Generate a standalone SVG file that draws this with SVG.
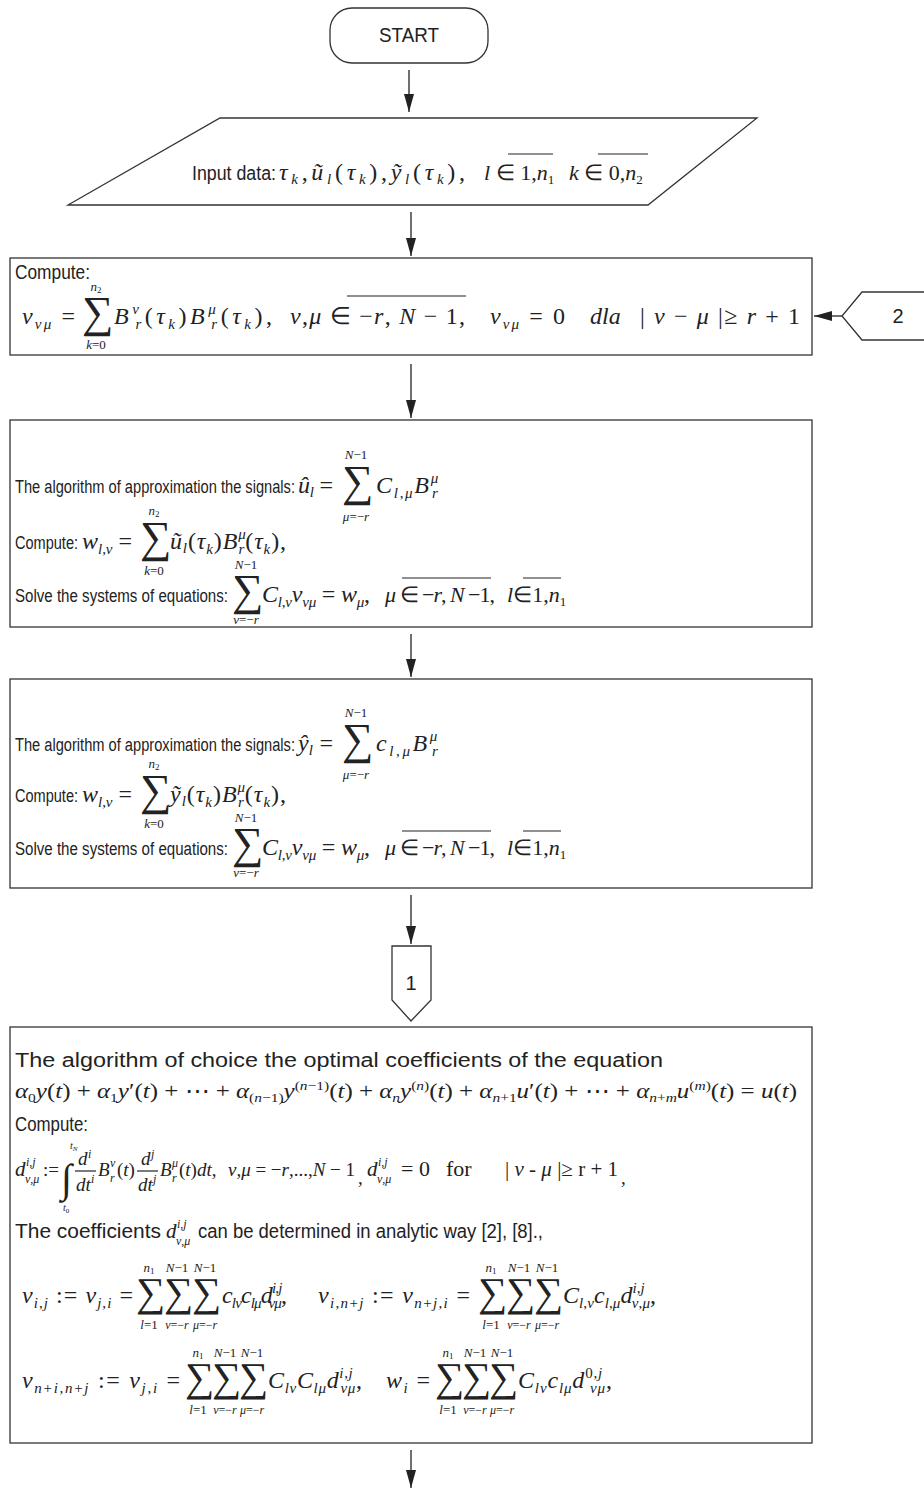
<svg xmlns="http://www.w3.org/2000/svg" width="924" height="1490" viewBox="0 0 924 1490">
<style>
.box{fill:#fff;stroke:#333;stroke-width:1.3}
.ln{stroke:#222;stroke-width:1.3;fill:none}
.t{font-family:"Liberation Sans",Arial,sans-serif;font-size:20px;fill:#222}
.t3{font-family:"Liberation Sans",Arial,sans-serif;font-size:18px;fill:#222}
.m{font-family:"Liberation Serif","Times New Roman",serif;font-style:italic;font-size:24px;fill:#222}
.d{font-family:"Liberation Serif","Times New Roman",serif;font-style:italic;font-size:19px;fill:#222}
.n{font-style:normal}
.sb{font-size:15px}
.s{font-family:"Liberation Serif","Times New Roman",serif;font-style:italic;font-size:12px;fill:#222}
.sum{font-family:"Liberation Serif","Times New Roman",serif;font-size:44px;fill:#222}
.rs{font-family:"Liberation Serif","Times New Roman",serif;font-size:41px;fill:#222}
.lim{font-family:"Liberation Serif","Times New Roman",serif;font-style:italic;font-size:13px;fill:#222;text-anchor:middle}
.ov{stroke:#222;stroke-width:1.2}
</style>
<defs>
<marker id="a" markerUnits="userSpaceOnUse" markerWidth="18" markerHeight="10" refX="18" refY="5" orient="auto" viewBox="0 0 18 10">
<path d="M0,0 L18,5 L0,10 z" fill="#222"/>
</marker>
</defs>

<g id="connectors">
<line class="ln" x1="409" y1="70" x2="409" y2="112" marker-end="url(#a)"/>
<line class="ln" x1="411" y1="212" x2="411" y2="256" marker-end="url(#a)"/>
<line class="ln" x1="411" y1="364" x2="411" y2="418" marker-end="url(#a)"/>
<line class="ln" x1="411" y1="634" x2="411" y2="677" marker-end="url(#a)"/>
<line class="ln" x1="411" y1="895" x2="411" y2="944" marker-end="url(#a)"/>
<line class="ln" x1="411" y1="1450" x2="411" y2="1488" marker-end="url(#a)"/>
<line class="ln" x1="842" y1="316" x2="814" y2="316" marker-end="url(#a)"/>
</g>

<g id="start">
<rect class="box" x="330" y="8" width="158" height="55" rx="22"/>
<text class="t" x="409" y="42" text-anchor="middle" textLength="60" lengthAdjust="spacingAndGlyphs">START</text>
</g>

<g id="input">
<polygon class="box" points="220,118 757,118 648,205 68,205"/>
<text class="t" x="192" y="180" textLength="84" lengthAdjust="spacingAndGlyphs">Input data:</text>
<text class="m" x="279" y="180" textLength="186">τ<tspan class="sb" dy="4">k</tspan><tspan class="n" dy="-4">,</tspan>ũ<tspan class="sb" dy="4">l</tspan><tspan class="n" dy="-4">(</tspan>τ<tspan class="sb" dy="4">k</tspan><tspan class="n" dy="-4">),</tspan>ỹ<tspan class="sb" dy="4">l</tspan><tspan class="n" dy="-4">(</tspan>τ<tspan class="sb" dy="4">k</tspan><tspan class="n" dy="-4">),</tspan></text>
<text class="m" x="484" y="180" style="font-size:22px">l <tspan class="n">∈ 1,</tspan>n<tspan class="n" style="font-size:13px" dy="4">1</tspan></text>
<line class="ov" x1="508" y1="154" x2="553" y2="154"/>
<text class="m" x="569" y="180" style="font-size:22px">k <tspan class="n">∈ 0,</tspan>n<tspan class="n" style="font-size:13px" dy="4">2</tspan></text>
<line class="ov" x1="598" y1="154" x2="648" y2="154"/>
</g>

<g id="compute1">
<rect class="box" x="10" y="258" width="802" height="97"/>
<text class="t" x="15" y="279" textLength="75" lengthAdjust="spacingAndGlyphs">Compute:</text>
<text class="m" x="22" y="324" textLength="53">v<tspan class="sb" dy="5">νμ</tspan><tspan class="n" dy="-5"> = </tspan></text>
<text class="sum" x="82" y="327">∑</text>
<text class="lim" x="96" y="291">n<tspan font-size="9" dy="2" font-style="normal">2</tspan></text>
<text class="lim" x="96" y="349">k<tspan font-style="normal">=0</tspan></text>
<text class="m" x="114" y="324" textLength="158">B<tspan class="sb" dy="-10">ν</tspan><tspan class="sb" dx="-7" dy="15">r</tspan><tspan class="n" dy="-5">(</tspan>τ<tspan class="sb" dy="5">k</tspan><tspan class="n" dy="-5">)</tspan>B<tspan class="sb" dy="-10">μ</tspan><tspan class="sb" dx="-8" dy="15">r</tspan><tspan class="n" dy="-5">(</tspan>τ<tspan class="sb" dy="5">k</tspan><tspan class="n" dy="-5">),</tspan></text>
<text class="m" x="290" y="324" textLength="175">ν<tspan class="n">,</tspan>μ <tspan class="n">∈ −</tspan>r<tspan class="n">, </tspan>N <tspan class="n">− 1,</tspan></text>
<line class="ov" x1="347" y1="296" x2="466" y2="296"/>
<text class="m" x="490" y="324" textLength="75">v<tspan class="sb" dy="5">νμ</tspan><tspan class="n" dy="-5"> = 0</tspan></text>
<text class="m" x="590" y="324">dla</text>
<text class="m" x="640" y="324" textLength="160"><tspan class="n">| </tspan>ν <tspan class="n">− </tspan>μ <tspan class="n">|≥ </tspan>r <tspan class="n">+ 1</tspan></text>
</g>

<g id="conn2">
<polyline class="box" points="924,292 862,292 842,316 862,340 924,340"/>
<text class="t" x="898" y="323" text-anchor="middle">2</text>
</g>

<g id="approx-u">
<rect class="box" x="10" y="420" width="802" height="207"/>
<text class="t3" x="15" y="493" textLength="280" lengthAdjust="spacingAndGlyphs">The algorithm of approximation the signals:</text>
<text class="m" x="298" y="493" textLength="35">û<tspan class="sb" dy="4">l</tspan><tspan class="n" dy="-4"> = </tspan></text>
<text class="sum" x="342" y="496">∑</text>
<text class="lim" x="356" y="459">N<tspan font-style="normal">−1</tspan></text>
<text class="lim" x="356" y="521">μ<tspan font-style="normal">=−</tspan>r</text>
<text class="m" x="376" y="493" textLength="64">C<tspan class="sb" dy="5">l<tspan class="n">,</tspan>μ</tspan><tspan dy="-5">B</tspan><tspan class="sb" dy="-10">μ</tspan><tspan class="sb" dx="-8" dy="15">r</tspan></text>
<text class="t3" x="15" y="549" textLength="63" lengthAdjust="spacingAndGlyphs">Compute:</text>
<text class="m" x="82" y="549" textLength="50">w<tspan class="sb" dy="5">l<tspan class="n">,</tspan>ν</tspan><tspan class="n" dy="-5"> = </tspan></text>
<text class="sum" x="140" y="552">∑</text>
<text class="lim" x="154" y="515">n<tspan font-size="9" dy="2" font-style="normal">2</tspan></text>
<text class="lim" x="154" y="575">k<tspan font-style="normal">=0</tspan></text>
<text class="m" x="170" y="549" textLength="116">ũ<tspan class="sb" dy="4">l</tspan><tspan class="n" dy="-4">(</tspan>τ<tspan class="sb" dy="5">k</tspan><tspan class="n" dy="-5">)</tspan>B<tspan class="sb" dy="-10">μ</tspan><tspan class="sb" dx="-8" dy="15">r</tspan><tspan class="n" dy="-5">(</tspan>τ<tspan class="sb" dy="5">k</tspan><tspan class="n" dy="-5">),</tspan></text>
<text class="t3" x="15" y="602" textLength="213" lengthAdjust="spacingAndGlyphs">Solve the systems of equations:</text>
<text class="sum" x="232" y="605">∑</text>
<text class="lim" x="246" y="569">N<tspan font-style="normal">−1</tspan></text>
<text class="lim" x="246" y="624">ν<tspan font-style="normal">=−</tspan>r</text>
<text class="m" x="262" y="602" textLength="108">C<tspan class="sb" dy="5">l<tspan class="n">,</tspan>ν</tspan><tspan dy="-5">v</tspan><tspan class="sb" dy="5">νμ</tspan><tspan class="n" dy="-5"> = </tspan>w<tspan class="sb" dy="5">μ</tspan><tspan class="n" dy="-5">,</tspan></text>
<text class="m" x="385" y="602" style="font-size:22px" textLength="110">μ <tspan class="n">∈ −</tspan>r<tspan class="n">, </tspan>N <tspan class="n">−1,</tspan></text>
<line class="ov" x1="402" y1="578" x2="491" y2="578"/>
<text class="m" x="507" y="602" style="font-size:22px">l<tspan class="n">∈1,</tspan>n<tspan class="n" style="font-size:13px" dy="4">1</tspan></text>
<line class="ov" x1="523" y1="578" x2="561" y2="578"/>
</g>

<g id="approx-y">
<rect class="box" x="10" y="679" width="802" height="209"/>
<text class="t3" x="15" y="751" textLength="280" lengthAdjust="spacingAndGlyphs">The algorithm of approximation the signals:</text>
<text class="m" x="298" y="751" textLength="35">ŷ<tspan class="sb" dy="4">l</tspan><tspan class="n" dy="-4"> = </tspan></text>
<text class="sum" x="342" y="754">∑</text>
<text class="lim" x="356" y="717">N<tspan font-style="normal">−1</tspan></text>
<text class="lim" x="356" y="779">μ<tspan font-style="normal">=−</tspan>r</text>
<text class="m" x="376" y="751" textLength="64">c<tspan class="sb" dy="5">l<tspan class="n">,</tspan>μ</tspan><tspan dy="-5">B</tspan><tspan class="sb" dy="-10">μ</tspan><tspan class="sb" dx="-8" dy="15">r</tspan></text>
<text class="t3" x="15" y="802" textLength="63" lengthAdjust="spacingAndGlyphs">Compute:</text>
<text class="m" x="82" y="802" textLength="50">w<tspan class="sb" dy="5">l<tspan class="n">,</tspan>ν</tspan><tspan class="n" dy="-5"> = </tspan></text>
<text class="sum" x="140" y="805">∑</text>
<text class="lim" x="154" y="768">n<tspan font-size="9" dy="2" font-style="normal">2</tspan></text>
<text class="lim" x="154" y="828">k<tspan font-style="normal">=0</tspan></text>
<text class="m" x="170" y="802" textLength="116">ỹ<tspan class="sb" dy="4">l</tspan><tspan class="n" dy="-4">(</tspan>τ<tspan class="sb" dy="5">k</tspan><tspan class="n" dy="-5">)</tspan>B<tspan class="sb" dy="-10">μ</tspan><tspan class="sb" dx="-8" dy="15">r</tspan><tspan class="n" dy="-5">(</tspan>τ<tspan class="sb" dy="5">k</tspan><tspan class="n" dy="-5">),</tspan></text>
<text class="t3" x="15" y="855" textLength="213" lengthAdjust="spacingAndGlyphs">Solve the systems of equations:</text>
<text class="sum" x="232" y="858">∑</text>
<text class="lim" x="246" y="822">N<tspan font-style="normal">−1</tspan></text>
<text class="lim" x="246" y="877">ν<tspan font-style="normal">=−</tspan>r</text>
<text class="m" x="262" y="855" textLength="108">C<tspan class="sb" dy="5">l<tspan class="n">,</tspan>ν</tspan><tspan dy="-5">v</tspan><tspan class="sb" dy="5">νμ</tspan><tspan class="n" dy="-5"> = </tspan>w<tspan class="sb" dy="5">μ</tspan><tspan class="n" dy="-5">,</tspan></text>
<text class="m" x="385" y="855" style="font-size:22px" textLength="110">μ <tspan class="n">∈ −</tspan>r<tspan class="n">, </tspan>N <tspan class="n">−1,</tspan></text>
<line class="ov" x1="402" y1="831" x2="491" y2="831"/>
<text class="m" x="507" y="855" style="font-size:22px">l<tspan class="n">∈1,</tspan>n<tspan class="n" style="font-size:13px" dy="4">1</tspan></text>
<line class="ov" x1="523" y1="831" x2="561" y2="831"/>
</g>

<g id="conn1">
<polygon class="box" points="392,946 431,946 431,1000 411,1021 392,1000"/>
<text class="t" x="411" y="990" text-anchor="middle">1</text>
</g>

<g id="optimal">
<rect class="box" x="10" y="1027" width="802" height="416"/>
<text class="t" x="15" y="1067" textLength="648" lengthAdjust="spacingAndGlyphs">The algorithm of choice the optimal coefficients of the equation</text>
<text class="m" x="15" y="1098" style="font-size:21px" textLength="782" lengthAdjust="spacingAndGlyphs">α<tspan class="n" font-size="13" dy="4">0</tspan><tspan dy="-4">y</tspan><tspan class="n">(</tspan>t<tspan class="n">) + </tspan>α<tspan class="n" font-size="13" dy="4">1</tspan><tspan dy="-4">y</tspan><tspan class="n">′(</tspan>t<tspan class="n">) + ⋯ + </tspan>α<tspan class="n" font-size="13" dy="4">(</tspan><tspan font-size="13">n</tspan><tspan class="n" font-size="13">−1)</tspan><tspan dy="-4">y</tspan><tspan class="n" font-size="13" dy="-8">(</tspan><tspan font-size="13">n</tspan><tspan class="n" font-size="13">−1)</tspan><tspan class="n" dy="8">(</tspan>t<tspan class="n">) + </tspan>α<tspan font-size="13" dy="4">n</tspan><tspan dy="-4">y</tspan><tspan class="n" font-size="13" dy="-8">(</tspan><tspan font-size="13">n</tspan><tspan class="n" font-size="13">)</tspan><tspan class="n" dy="8">(</tspan>t<tspan class="n">) + </tspan>α<tspan font-size="13" dy="4">n</tspan><tspan class="n" font-size="13">+1</tspan><tspan dy="-4">u</tspan><tspan class="n">′(</tspan>t<tspan class="n">) + ⋯ + </tspan>α<tspan font-size="13" dy="4">n</tspan><tspan class="n" font-size="13">+</tspan><tspan font-size="13">m</tspan><tspan dy="-4">u</tspan><tspan class="n" font-size="13" dy="-8">(</tspan><tspan font-size="13">m</tspan><tspan class="n" font-size="13">)</tspan><tspan class="n" dy="8">(</tspan>t<tspan class="n">) = </tspan>u<tspan class="n">(</tspan>t<tspan class="n">)</tspan></text>
<text class="t" x="15" y="1131" textLength="73" lengthAdjust="spacingAndGlyphs">Compute:</text>

<text class="d" x="15" y="1176" style="font-size:21px">d</text>
<text class="s" x="26" y="1166">i<tspan class="n">,</tspan>j</text>
<text class="s" x="25" y="1183">ν<tspan class="n">,</tspan>μ</text>
<text class="d n" x="43" y="1176">:=</text>
<text class="sum" x="61" y="1192" style="font-size:40px">∫</text>
<text class="s" x="70" y="1149" style="font-size:10px">t<tspan font-size="7" dy="2">N</tspan></text>
<text class="s" x="63" y="1211" style="font-size:10px">t<tspan font-size="7" dy="2" font-style="normal">0</tspan></text>
<text class="d" x="78" y="1165">d</text>
<text class="s" x="88" y="1158">i</text>
<line class="ov" x1="75" y1="1171" x2="96" y2="1171"/>
<text class="d" x="76" y="1191">dt</text>
<text class="s" x="91" y="1183">i</text>
<text class="d" x="98" y="1176">B</text>
<text class="s" x="110" y="1167">ν</text>
<text class="s" x="110" y="1182">r</text>
<text class="d" x="117" y="1176"><tspan class="n">(</tspan>t<tspan class="n">)</tspan></text>
<text class="d" x="141" y="1165">d</text>
<text class="s" x="151" y="1158">j</text>
<line class="ov" x1="137" y1="1171" x2="158" y2="1171"/>
<text class="d" x="138" y="1191">dt</text>
<text class="s" x="153" y="1183">j</text>
<text class="d" x="160" y="1176">B</text>
<text class="s" x="172" y="1167">μ</text>
<text class="s" x="172" y="1182">r</text>
<text class="d" x="179" y="1176"><tspan class="n">(</tspan>t<tspan class="n">)</tspan>dt<tspan class="n">,</tspan></text>
<text class="d" x="228" y="1176" textLength="127">ν<tspan class="n">,</tspan>μ<tspan class="n"> = −</tspan>r<tspan class="n">,...,</tspan>N <tspan class="n">− 1</tspan></text>
<text class="d n" x="358" y="1184">,</text>
<text class="d" x="367" y="1176" style="font-size:21px">d</text>
<text class="s" x="378" y="1166">i<tspan class="n">,</tspan>j</text>
<text class="s" x="377" y="1183">ν<tspan class="n">,</tspan>μ</text>
<text class="d n" x="401" y="1176" style="font-size:22px">= 0</text>
<text class="d n" x="446" y="1176" style="font-size:22px">for</text>
<text class="d" x="505" y="1176" style="font-size:21px" textLength="113"><tspan class="n">| </tspan>ν <tspan class="n">- </tspan>μ<tspan class="n"> |≥ r + 1</tspan></text>
<text class="d n" x="621" y="1184">,</text>

<text class="t" x="15" y="1238" textLength="146" lengthAdjust="spacingAndGlyphs">The coefficients</text>
<text class="d" x="166" y="1238" style="font-size:21px">d</text>
<text class="s" x="177" y="1228">i<tspan class="n">,</tspan>j</text>
<text class="s" x="176" y="1245">ν<tspan class="n">,</tspan>μ</text>
<text class="t" x="198" y="1238" textLength="345" lengthAdjust="spacingAndGlyphs">can be determined in analytic way [2], [8].,</text>

<text class="m" x="22" y="1303" textLength="111">v<tspan class="sb" dy="5">i<tspan class="n">,</tspan>j</tspan><tspan class="n" dy="-5"> := </tspan>v<tspan class="sb" dy="5">j<tspan class="n">,</tspan>i</tspan><tspan class="n" dy="-5"> = </tspan></text>
<text class="rs" x="136" y="1306">∑</text>
<text class="rs" x="164" y="1306">∑</text>
<text class="rs" x="192" y="1306">∑</text>
<text class="lim" x="149" y="1272">n<tspan font-size="9" dy="2" font-style="normal">1</tspan></text>
<text class="lim" x="177" y="1272">N<tspan font-style="normal">−1</tspan></text>
<text class="lim" x="205" y="1272">N<tspan font-style="normal">−1</tspan></text>
<text class="lim" x="149" y="1329">l<tspan font-style="normal">=1</tspan></text>
<text class="lim" x="177" y="1329" style="font-size:12px">ν<tspan font-style="normal">=−</tspan>r</text>
<text class="lim" x="205" y="1329" style="font-size:12px">μ<tspan font-style="normal">=−</tspan>r</text>
<text class="m" x="222" y="1303" textLength="65">c<tspan class="sb" dy="5">lν</tspan><tspan dy="-5">c</tspan><tspan class="sb" dy="5">lμ</tspan><tspan dy="-5">d</tspan><tspan class="sb" dy="-10">i<tspan class="n">,</tspan>j</tspan><tspan class="sb" dx="-13" dy="15">νμ</tspan><tspan class="n" dy="-5">,</tspan></text>
<text class="m" x="318" y="1303" textLength="152">v<tspan class="sb" dy="5">i<tspan class="n">,</tspan>n<tspan class="n">+</tspan>j</tspan><tspan class="n" dy="-5"> := </tspan>v<tspan class="sb" dy="5">n<tspan class="n">+</tspan>j<tspan class="n">,</tspan>i</tspan><tspan class="n" dy="-5"> = </tspan></text>
<text class="rs" x="478" y="1306">∑</text>
<text class="rs" x="506" y="1306">∑</text>
<text class="rs" x="534" y="1306">∑</text>
<text class="lim" x="491" y="1272">n<tspan font-size="9" dy="2" font-style="normal">1</tspan></text>
<text class="lim" x="519" y="1272">N<tspan font-style="normal">−1</tspan></text>
<text class="lim" x="547" y="1272">N<tspan font-style="normal">−1</tspan></text>
<text class="lim" x="491" y="1329">l<tspan font-style="normal">=1</tspan></text>
<text class="lim" x="519" y="1329" style="font-size:12px">ν<tspan font-style="normal">=−</tspan>r</text>
<text class="lim" x="547" y="1329" style="font-size:12px">μ<tspan font-style="normal">=−</tspan>r</text>
<text class="m" x="563" y="1303" textLength="93">C<tspan class="sb" dy="5">l<tspan class="n">,</tspan>ν</tspan><tspan dy="-5">c</tspan><tspan class="sb" dy="5">l<tspan class="n">,</tspan>μ</tspan><tspan dy="-5">d</tspan><tspan class="sb" dy="-10">i<tspan class="n">,</tspan>j</tspan><tspan class="sb" dx="-13" dy="15">ν<tspan class="n">,</tspan>μ</tspan><tspan class="n" dy="-5">,</tspan></text>

<text class="m" x="22" y="1388" textLength="158">v<tspan class="sb" dy="5">n<tspan class="n">+</tspan>i<tspan class="n">,</tspan>n<tspan class="n">+</tspan>j</tspan><tspan class="n" dy="-5"> := </tspan>v<tspan class="sb" dy="5">j<tspan class="n">,</tspan>i</tspan><tspan class="n" dy="-5"> = </tspan></text>
<text class="rs" x="185" y="1391">∑</text>
<text class="rs" x="212" y="1391">∑</text>
<text class="rs" x="239" y="1391">∑</text>
<text class="lim" x="198" y="1357">n<tspan font-size="9" dy="2" font-style="normal">1</tspan></text>
<text class="lim" x="225" y="1357">N<tspan font-style="normal">−1</tspan></text>
<text class="lim" x="252" y="1357">N<tspan font-style="normal">−1</tspan></text>
<text class="lim" x="198" y="1414">l<tspan font-style="normal">=1</tspan></text>
<text class="lim" x="225" y="1414" style="font-size:12px">ν<tspan font-style="normal">=−</tspan>r</text>
<text class="lim" x="252" y="1414" style="font-size:12px">μ<tspan font-style="normal">=−</tspan>r</text>
<text class="m" x="268" y="1388" textLength="94">C<tspan class="sb" dy="5">lν</tspan><tspan dy="-5">C</tspan><tspan class="sb" dy="5">lμ</tspan><tspan dy="-5">d</tspan><tspan class="sb" dy="-10">i<tspan class="n">,</tspan>j</tspan><tspan class="sb" dx="-13" dy="15">νμ</tspan><tspan class="n" dy="-5">,</tspan></text>
<text class="m" x="386" y="1388" textLength="44">w<tspan class="sb" dy="5">i</tspan><tspan class="n" dy="-5"> = </tspan></text>
<text class="rs" x="435" y="1391">∑</text>
<text class="rs" x="462" y="1391">∑</text>
<text class="rs" x="489" y="1391">∑</text>
<text class="lim" x="448" y="1357">n<tspan font-size="9" dy="2" font-style="normal">1</tspan></text>
<text class="lim" x="475" y="1357">N<tspan font-style="normal">−1</tspan></text>
<text class="lim" x="502" y="1357">N<tspan font-style="normal">−1</tspan></text>
<text class="lim" x="448" y="1414">l<tspan font-style="normal">=1</tspan></text>
<text class="lim" x="475" y="1414" style="font-size:12px">ν<tspan font-style="normal">=−</tspan>r</text>
<text class="lim" x="502" y="1414" style="font-size:12px">μ<tspan font-style="normal">=−</tspan>r</text>
<text class="m" x="518" y="1388" textLength="94">C<tspan class="sb" dy="5">lν</tspan><tspan dy="-5">c</tspan><tspan class="sb" dy="5">lμ</tspan><tspan dy="-5">d</tspan><tspan class="sb" dy="-10"><tspan class="n">0,</tspan>j</tspan><tspan class="sb" dx="-13" dy="15">νμ</tspan><tspan class="n" dy="-5">,</tspan></text>
</g>
</svg>
